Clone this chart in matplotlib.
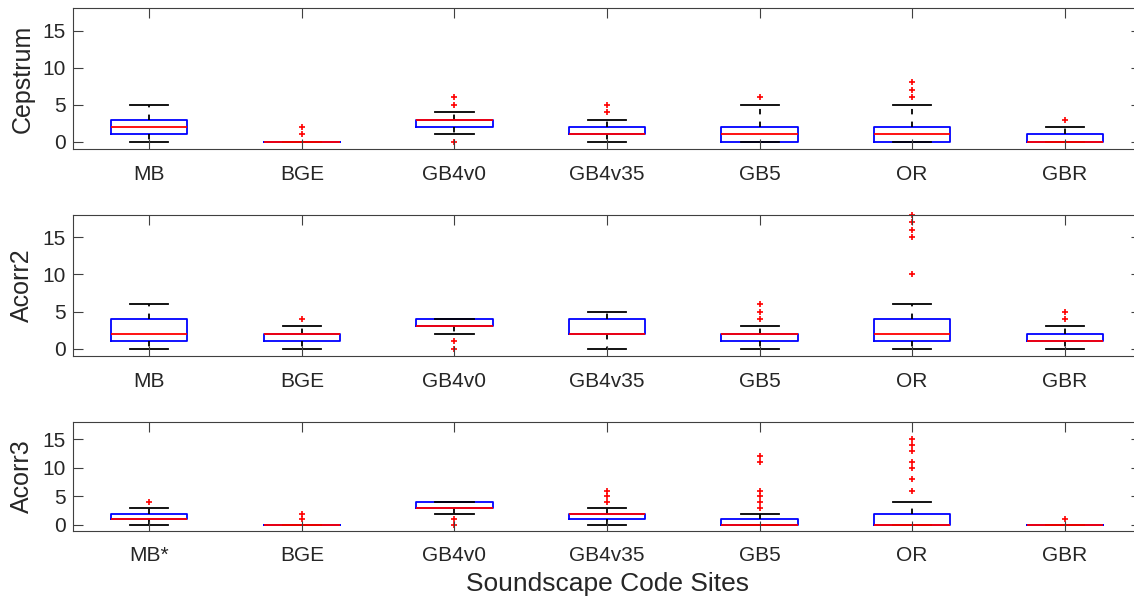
import matplotlib
matplotlib.use('Agg')
import matplotlib.pyplot as plt

plt.rcParams['font.family'] = ['Liberation Sans', 'DejaVu Sans']

# Site names on the x axis (bottom panel marks MB with an asterisk)
sites = ['MB', 'BGE', 'GB4v0', 'GB4v35', 'GB5', 'OR', 'GBR']
sites_bottom = ['MB*', 'BGE', 'GB4v0', 'GB4v35', 'GB5', 'OR', 'GBR']

# Cepstrum box statistics per site
cep_q1 = [1, 0, 2, 1, 0, 0, 0]
cep_med = [2, 0, 3, 1, 1, 1, 0]
cep_q3 = [3, 0, 3, 2, 2, 2, 1]
cep_lo = [0, 0, 1, 0, 0, 0, 0]
cep_hi = [5, 0, 4, 3, 5, 5, 2]
cep_out = [[], [1, 2], [0, 5, 6], [4, 5], [6], [6, 7, 8], [3]]

# Acorr2 box statistics per site
ac2_q1 = [1, 1, 3, 2, 1, 1, 1]
ac2_med = [2, 2, 3, 2, 2, 2, 1]
ac2_q3 = [4, 2, 4, 4, 2, 4, 2]
ac2_lo = [0, 0, 2, 0, 0, 0, 0]
ac2_hi = [6, 3, 4, 5, 3, 6, 3]
ac2_out = [[], [4], [0, 1], [], [4, 5, 6], [10, 15, 16, 17, 18], [4, 5]]

# Acorr3 box statistics per site
ac3_q1 = [1, 0, 3, 1, 0, 0, 0]
ac3_med = [1, 0, 3, 2, 0, 0, 0]
ac3_q3 = [2, 0, 4, 2, 1, 2, 0]
ac3_lo = [0, 0, 2, 0, 0, 0, 0]
ac3_hi = [3, 0, 4, 3, 2, 4, 0]
ac3_out = [[4], [1, 2], [0, 1], [4, 5, 6], [3, 4, 5, 6, 11, 12],
           [6, 8, 10, 11, 13, 14, 15], [1]]

yticks = [0, 5, 10, 15]
TXT = '#262626'
AX = '#404040'


def make_stats(q1, med, q3, lo, hi, out):
    stats = []
    for i in range(len(q1)):
        stats.append(dict(q1=q1[i], med=med[i], q3=q3[i],
                          whislo=lo[i], whishi=hi[i], fliers=out[i]))
    return stats


panels = [
    ('Cepstrum', make_stats(cep_q1, cep_med, cep_q3, cep_lo, cep_hi, cep_out), sites),
    ('Acorr2', make_stats(ac2_q1, ac2_med, ac2_q3, ac2_lo, ac2_hi, ac2_out), sites),
    ('Acorr3', make_stats(ac3_q1, ac3_med, ac3_q3, ac3_lo, ac3_hi, ac3_out), sites_bottom),
]

# axes rectangles in figure fractions
rects = [
    [0.0644, 0.7512, 0.9418, 0.2350],
    [0.0644, 0.4062, 0.9418, 0.2360],
    [0.0644, 0.1155, 0.9418, 0.1812],
]

fig = plt.figure(figsize=(11.34, 6.0), dpi=100)

for (name, stats, labels), rect in zip(panels, rects):
    ax = fig.add_axes(rect)
    parts = ax.bxp(stats, positions=range(1, 8), widths=0.5, capwidths=0.25,
                   boxprops=dict(color='#0000ff', linewidth=1.3),
                   medianprops=dict(color='#ff0000', linewidth=1.3),
                   whiskerprops=dict(color='black', linewidth=1.3, linestyle=(0, (3, 4))),
                   capprops=dict(color='black', linewidth=1.3),
                   flierprops=dict(marker='+', markeredgecolor='#ff0000',
                                   markersize=5, markeredgewidth=1.2))
    for fl in parts['fliers']:
        fl.set_clip_on(False)
    ax.set_xlim(0.5, 7.5)
    ax.set_ylim(-1, 18)
    ax.set_yticks(yticks)
    ax.set_xticks(range(1, 8))
    ax.set_xticklabels(labels)
    ax.set_axisbelow(False)
    ax.tick_params(direction='in', length=7.5, width=0.8, color=AX,
                   top=True, right=True, labelsize=15, labelcolor=TXT)
    ax.tick_params(axis='x', pad=11)
    ax.tick_params(axis='y', pad=5)
    for sp in ax.spines.values():
        sp.set_color(AX)
        sp.set_linewidth(0.8)
    ax.set_ylabel(name, fontsize=18, color=TXT, labelpad=6)
    ax.grid(False)

ax.set_xlabel('Soundscape Code Sites', fontsize=19, color=TXT, labelpad=5)

fig.savefig('out.png', dpi=100, facecolor='white')
